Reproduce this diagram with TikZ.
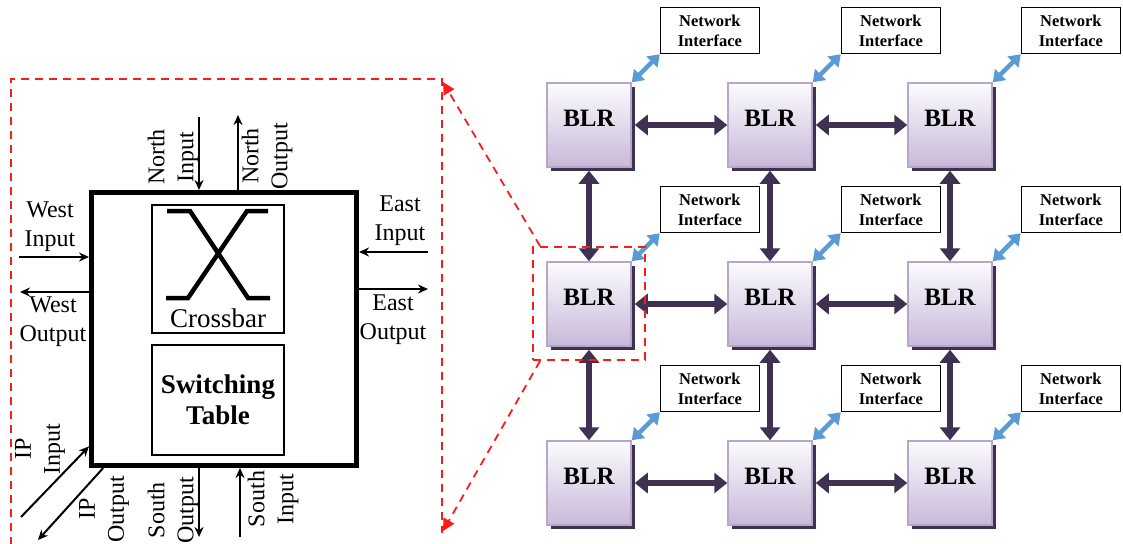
\documentclass[tikz,border=0pt]{standalone}
\usepackage{fontspec}
\setmainfont{Liberation Serif}
\usepackage{xcolor}
\usetikzlibrary{arrows.meta,positioning,shadows}

\definecolor{blrtop}{HTML}{FCFBFE}
\definecolor{blrbot}{HTML}{C8B9D9}
\definecolor{blredge}{HTML}{B5A6CA}
\definecolor{linkpurple}{HTML}{3F3152}
\definecolor{niblue}{HTML}{5B9BD5}
\definecolor{zoomred}{HTML}{FF1A1A}

\tikzset{
  blr/.style={draw=blredge, line width=1.5pt, top color=blrtop, bottom color=blrbot,
    minimum size=84pt, inner sep=0pt, text height=17pt, text depth=15pt,
    font=\bfseries\fontsize{25}{30}\selectfont,
    drop shadow={shadow xshift=4pt, shadow yshift=-4pt, fill=linkpurple, opacity=1}},
  ni/.style={draw, line width=1.2pt, fill=white, minimum width=99pt, minimum height=46pt,
    inner sep=0pt, align=center, font=\bfseries\fontsize{16.5}{20.5}\selectfont},
  blrlink/.style={linkpurple, line width=6.5pt,
    {Triangle[width=20pt,length=13pt]}-{Triangle[width=20pt,length=13pt]}, shorten <=3pt},
  niarrow/.style={niblue, line width=4.5pt,
    {Triangle[width=15pt,length=11pt]}-{Triangle[width=15pt,length=11pt]}},
  io/.style={line width=2pt, -{Stealth[length=10pt,width=9pt]}},
  lbl/.style={align=center, inner sep=0pt, font=\fontsize{24}{29}\selectfont},
  zoomline/.style={zoomred, line width=1.8pt, dash pattern=on 8pt off 6pt},
}

\begin{document}
\begin{tikzpicture}[x=1pt,y=-1pt]
\clip (0,0) rectangle (1123,543);

% router detail
\node[draw, line width=5pt, minimum width=265pt, minimum height=273pt] (rtr) at (224,329) {};
\node[draw, line width=2pt, minimum width=132pt, minimum height=128pt] (xbar) at (218,269) {};
\node[draw, line width=2pt, minimum width=132pt, minimum height=110pt, align=center,
  font=\bfseries\fontsize{27}{31}\selectfont] (swt) at (218,400) {Switching\\Table};
\node[font=\fontsize{27}{31}\selectfont, inner sep=0pt] (xlab) at (218,318) {Crossbar};
\draw[line width=4.5pt] (167,211) -- (190,211) -- (248,298) -- (270,298);
\draw[line width=4.5pt] (166,298) -- (188,298) -- (247,211) -- (268,211);

% ports
\coordinate (wi) at (19,257);
\coordinate (wo) at (20,292);
\coordinate (ei) at (428,252);
\coordinate (eo) at (428,289);
\coordinate (ni) at (199,117);
\coordinate (no) at (238,115);
\coordinate (so) at (199,537);
\coordinate (si) at (240,537);
\coordinate (ii) at (21,517);
\coordinate (ipo) at (38,540);
\draw[io] (wi) -- (wi -| rtr.west);
\draw[io] (wo -| rtr.west) -- (wo);
\draw[io] (ei) -- (ei -| rtr.east);
\draw[io] (eo -| rtr.east) -- (eo);
\draw[io] (ni) -- (ni |- rtr.north);
\draw[io] (no |- rtr.north) -- (no);
\draw[io] (so |- rtr.south) -- (so);
\draw[io] (si) -- (si |- rtr.south);
\draw[io] (ii) -- (rtr.221);
\draw[io] (rtr.229) -- (ipo);

\node[lbl] (wil) at (50,227) {West\\Input};
\node[lbl] (wol) at (53,322) {West\\Output};
\node[lbl] (eil) at (400,221) {East\\Input};
\node[lbl] (eol) at (393,320) {East\\Output};
\node[lbl, rotate=90] (nil) at (173,157) {North\\Input};
\node[lbl, rotate=90] (nol) at (267,156) {North\\Output};
\node[lbl, rotate=90] (sol) at (173,510) {South\\Output};
\node[lbl, rotate=90] (sil) at (273,499) {South\\Input};
\node[lbl, rotate=90] (iil) at (40,449) {IP\\Input};
\node[lbl, rotate=90] (iol) at (104,509) {IP\\Output};

% BLR mesh
\foreach \r/\y in {1/125,2/304,3/483}
  \foreach \c/\x in {1/589,2/770,3/950}{
    \node[blr] (b\r\c) at (\x,\y) {BLR};
    \node[ni, above right=28pt and 28pt of b\r\c.north east] (n\r\c) {Network\\Interface};
    \draw[niarrow] (n\r\c.south west) -- (b\r\c.north east);
  }
\foreach \r in {1,2,3}{
  \draw[blrlink] (b\r1) -- (b\r2);
  \draw[blrlink] (b\r2) -- (b\r3);
}
\foreach \c in {1,2,3}{
  \draw[blrlink] (b1\c) -- (b2\c);
  \draw[blrlink] (b2\c) -- (b3\c);
}

% zoom
\node[zoomline, draw, minimum width=112pt, minimum height=113pt] (focus) at (589,303.5) {};
\coordinate (zt) at (443,82);
\coordinate (zb) at (443,531);
\draw[zoomline] (11,545) -- (11,79) -- (442,79) -- (442,533);
\draw[zoomline, -{Triangle[width=12pt,length=12pt]}] ([xshift=8pt]focus.north west) -- (zt);
\draw[zoomline, -{Triangle[width=12pt,length=12pt]}] ([xshift=8pt]focus.south west) -- (zb);
\end{tikzpicture}
\end{document}
